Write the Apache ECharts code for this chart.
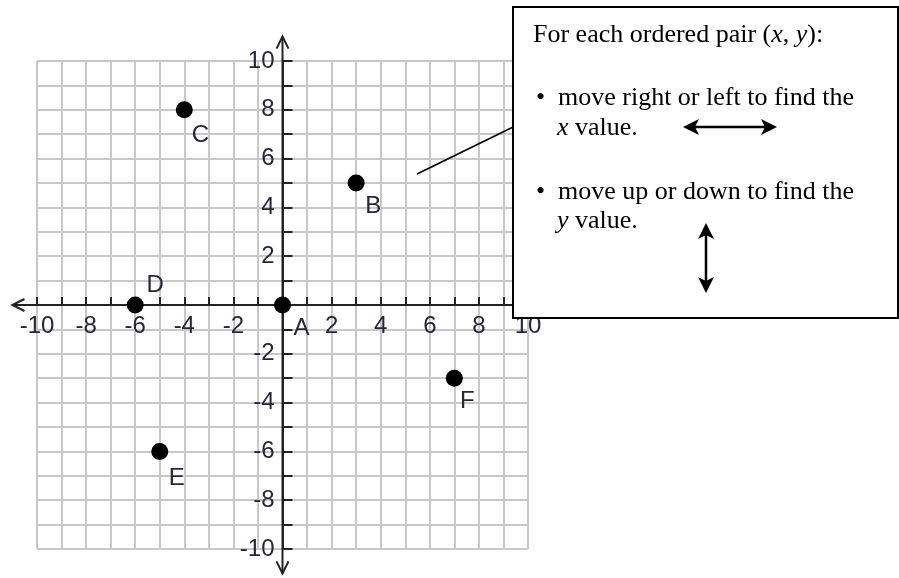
<!DOCTYPE html>
<html><head><meta charset="utf-8">
<script src="https://cdn.jsdelivr.net/npm/echarts/dist/echarts.min.js"></script>
<style>html,body{margin:0;padding:0;background:#fff}#c{width:899px;height:578px}</style>
</head><body><div id="c"></div>
<script>
// ---- data ----
const pointNames = ['A', 'B', 'C', 'D', 'E', 'F'];
const pointX = [0, 3, -4, -6, -5, 7];
const pointY = [0, 5, 8, 0, -6, -3];
const tickLabels = [-10, -8, -6, -4, -2, 2, 4, 6, 8, 10];
const axisMin = -10;
const axisMax = 10;
const noteLines = [
  'For each ordered pair ({i|x}, {i|y}):',
  'move right or left to find the',
  '{i|x} value.',
  'move up or down to find the',
  '{i|y} value.'
];

// ---- styling ----
const labelOffsets = { A: [19, 23], B: [17, 23], C: [16, 26], D: [20, -20], E: [17, 27], F: [13, 23] };
const sansFont = '"Liberation Sans", Arial, sans-serif';
const serifFont = '"Liberation Serif", "Times New Roman", serif';
const axisColor = '#222';
const textColor = '#26263a';
const gridBox = { left: 37, top: 61, width: 491, height: 488 };
const fmt = v => (tickLabels.indexOf(v) >= 0 ? String(v) : '');

const chart = echarts.init(document.getElementById('c'), null, { renderer: 'canvas' });

const axisCommon = {
  type: 'value', min: axisMin, max: axisMax, interval: 1,
  axisLine: { show: true, onZero: false, lineStyle: { color: axisColor, width: 2 } },
  axisTick: { show: true, inside: true, interval: 0, lineStyle: { color: axisColor, width: 2 } },
  splitLine: { show: true, lineStyle: { color: '#c8c8c8', width: 2 } },
  axisLabel: { show: true, formatter: fmt, color: textColor, fontSize: 24, fontFamily: sansFont, showMinLabel: true, showMaxLabel: true, hideOverlap: false }
};

// the axes cross at zero, inside the grid
const zeroFracX = (0 - axisMin) / (axisMax - axisMin);
const zeroFracY = (0 - axisMin) / (axisMax - axisMin);

chart.setOption({
  animation: false,
  backgroundColor: '#fff',
  grid: Object.assign({ containLabel: false, outerBoundsMode: 'none' }, gridBox),
  xAxis: Object.assign({}, axisCommon, {
    position: 'bottom',
    offset: -gridBox.height * zeroFracY,
    axisTick: Object.assign({}, axisCommon.axisTick, { length: 8 }),
    axisLabel: Object.assign({}, axisCommon.axisLabel, { margin: 9 })
  }),
  yAxis: Object.assign({}, axisCommon, {
    position: 'left',
    offset: -gridBox.width * zeroFracX,
    axisTick: Object.assign({}, axisCommon.axisTick, { length: 10 }),
    axisLabel: Object.assign({}, axisCommon.axisLabel, { margin: 8 })
  }),
  series: [{
    type: 'scatter',
    symbol: 'circle',
    symbolSize: 17,
    z: 10,
    itemStyle: { color: '#000', opacity: 1 },
    label: {
      show: true, position: 'inside', formatter: '{b}',
      color: textColor, fontSize: 24, fontFamily: sansFont, textBorderWidth: 0
    },
    data: pointNames.map((n, i) => ({
      name: n,
      value: [pointX[i], pointY[i]],
      label: { offset: labelOffsets[n] }
    }))
  }]
});

// ---- decorations: extended axes with chevrons, note box ----
const px = (x, y) => chart.convertToPixel({ gridIndex: 0 }, [x, y]);
const L = px(axisMin - 1, 0), R = px(axisMax + 1, 0);
const T = px(0, axisMax + 1), B = px(0, axisMin - 1);
const stroke = { stroke: axisColor, lineWidth: 2, fill: null };
const d = 12, w = 6;
const g = [];
g.push({ type: 'line', z: 5, shape: { x1: L[0], y1: L[1], x2: R[0], y2: R[1] }, style: stroke });
g.push({ type: 'line', z: 5, shape: { x1: T[0], y1: T[1], x2: B[0], y2: B[1] }, style: stroke });
g.push({ type: 'polyline', z: 5, shape: { points: [[L[0] + d, L[1] - w], [L[0], L[1]], [L[0] + d, L[1] + w]] }, style: stroke });
g.push({ type: 'polyline', z: 5, shape: { points: [[T[0] - w, T[1] + d], [T[0], T[1]], [T[0] + w, T[1] + d]] }, style: stroke });
g.push({ type: 'polyline', z: 5, shape: { points: [[B[0] - w, B[1] - d], [B[0], B[1]], [B[0] + w, B[1] - d]] }, style: stroke });

// pointer line into the note box
g.push({ type: 'line', z: 40, shape: { x1: 417, y1: 174, x2: 530, y2: 118.7 }, style: { stroke: '#000', lineWidth: 1.6 } });
// note box
g.push({ type: 'rect', z: 50, shape: { x: 513, y: 7, width: 385, height: 311 }, style: { fill: '#fff', stroke: '#000', lineWidth: 2 } });

const rich = { i: { fontStyle: 'italic', fontSize: 26, fontFamily: serifFont, fill: '#000', color: '#000' } };
function txt(text, x, y) {
  return {
    type: 'text', z: 60, x: x, y: y,
    style: {
      text: text, fill: '#000', fontSize: 26, fontFamily: serifFont,
      font: '26px ' + serifFont,
      align: 'left', verticalAlign: 'middle', textAlign: 'left', textVerticalAlign: 'middle',
      rich: rich
    }
  };
}
g.push(txt(noteLines[0], 533, 35));
g.push(txt('\u2022', 536, 98));
g.push(txt(noteLines[1], 558, 98));
g.push(txt(noteLines[2], 557, 128));
g.push(txt('\u2022', 536, 192));
g.push(txt(noteLines[3], 558, 192));
g.push(txt(noteLines[4], 557, 221));

// double arrows
const blk = { fill: '#000', stroke: null };
g.push({ type: 'line', z: 60, shape: { x1: 692, y1: 127, x2: 768, y2: 127 }, style: { stroke: '#000', lineWidth: 2.5 } });
g.push({ type: 'polygon', z: 60, shape: { points: [[683, 127], [699, 119], [695, 127], [699, 135]] }, style: blk });
g.push({ type: 'polygon', z: 60, shape: { points: [[777, 127], [761, 119], [765, 127], [761, 135]] }, style: blk });
g.push({ type: 'line', z: 60, shape: { x1: 706, y1: 232, x2: 706, y2: 284 }, style: { stroke: '#000', lineWidth: 2.5 } });
g.push({ type: 'polygon', z: 60, shape: { points: [[706, 223], [698, 239], [706, 235], [714, 239]] }, style: blk });
g.push({ type: 'polygon', z: 60, shape: { points: [[706, 293], [698, 277], [706, 281], [714, 277]] }, style: blk });

chart.setOption({ graphic: { elements: g } });
</script>
</body></html>
